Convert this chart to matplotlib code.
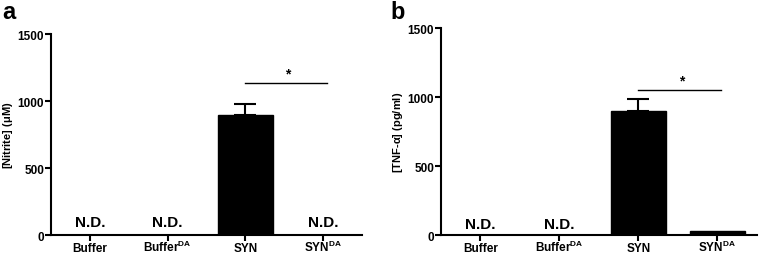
import matplotlib.pyplot as plt
import numpy as np

plt.rcParams['font.family'] = ['Liberation Sans', 'DejaVu Sans']
plt.rcParams['font.weight'] = 'bold'
plt.rcParams['mathtext.fontset'] = 'custom'
plt.rcParams['mathtext.rm'] = 'Liberation Sans:bold'
plt.rcParams['mathtext.bf'] = 'Liberation Sans:bold'
plt.rcParams['mathtext.it'] = 'Liberation Sans:bold'

# data
groups = ['Buffer', r'Buffer$^{\mathbf{DA}}$', 'SYN', r'SYN$^{\mathbf{DA}}$']
nitrite = [0, 0, 895, 0]
nitrite_err = [0, 0, 83, 0]
nitrite_nd = [True, True, False, True]
tnf = [0, 0, 899, 30]
tnf_err = [0, 0, 87, 0]
tnf_nd = [True, True, False, False]
sig_a = 1134
sig_b = 1051


def draw_panel(ax, vals, errs, nd, ylabel, sig_y, nd_y):
    x = np.arange(len(vals))
    ax.bar(x, vals, width=0.7, color='black', edgecolor='black')
    for i, (v, e) in enumerate(zip(vals, errs)):
        if e > 0:
            ax.errorbar(i, v, yerr=[[0], [e]], fmt='none', ecolor='black',
                        elinewidth=1.5, capsize=8, capthick=1.5)
    for i, flag in enumerate(nd):
        if flag:
            ax.text(i, nd_y, 'N.D.', ha='center', va='center',
                    fontsize=11, fontweight='bold')
    ax.plot([2, 3.05], [sig_y, sig_y], color='black', lw=1)
    ax.text(2.55, sig_y + 20, '*', ha='center', va='bottom',
            fontsize=10, fontweight='bold')
    ax.set_xlim(-0.5, 3.5)
    ax.set_ylim(0, 1500)
    ax.set_yticks([0, 500, 1000, 1500])
    ax.set_xticks(x)
    ax.set_xticklabels(groups)
    for lab in ax.get_xticklabels():
        lab.set_verticalalignment('baseline')
    ax.set_ylabel(ylabel, fontsize=8, fontweight='bold', labelpad=2)
    ax.spines['top'].set_visible(False)
    ax.spines['right'].set_visible(False)
    ax.spines['left'].set_linewidth(1.5)
    ax.spines['bottom'].set_linewidth(1.5)
    ax.tick_params(direction='out', length=4, width=1.5, labelsize=8.5)
    ax.tick_params(axis='x', pad=7.5)
    ax.tick_params(axis='y', pad=1)


fig = plt.figure(figsize=(7.61, 2.55), dpi=100)
ax1 = fig.add_axes([0.067, 0.0745, 0.4087, 0.788])
ax2 = fig.add_axes([0.5795, 0.0745, 0.4152, 0.8115])

draw_panel(ax1, nitrite, nitrite_err, nitrite_nd, r'[Nitrite] ($\mu$M)', sig_a, 100)
draw_panel(ax2, tnf, tnf_err, tnf_nd, r'[TNF-$\alpha$] (pg/ml)', sig_b, 80)

fig.text(0.003, 0.995, 'a', fontsize=17, fontweight='bold', va='top')
fig.text(0.513, 0.995, 'b', fontsize=17, fontweight='bold', va='top')

fig.savefig('out.png', dpi=100)
